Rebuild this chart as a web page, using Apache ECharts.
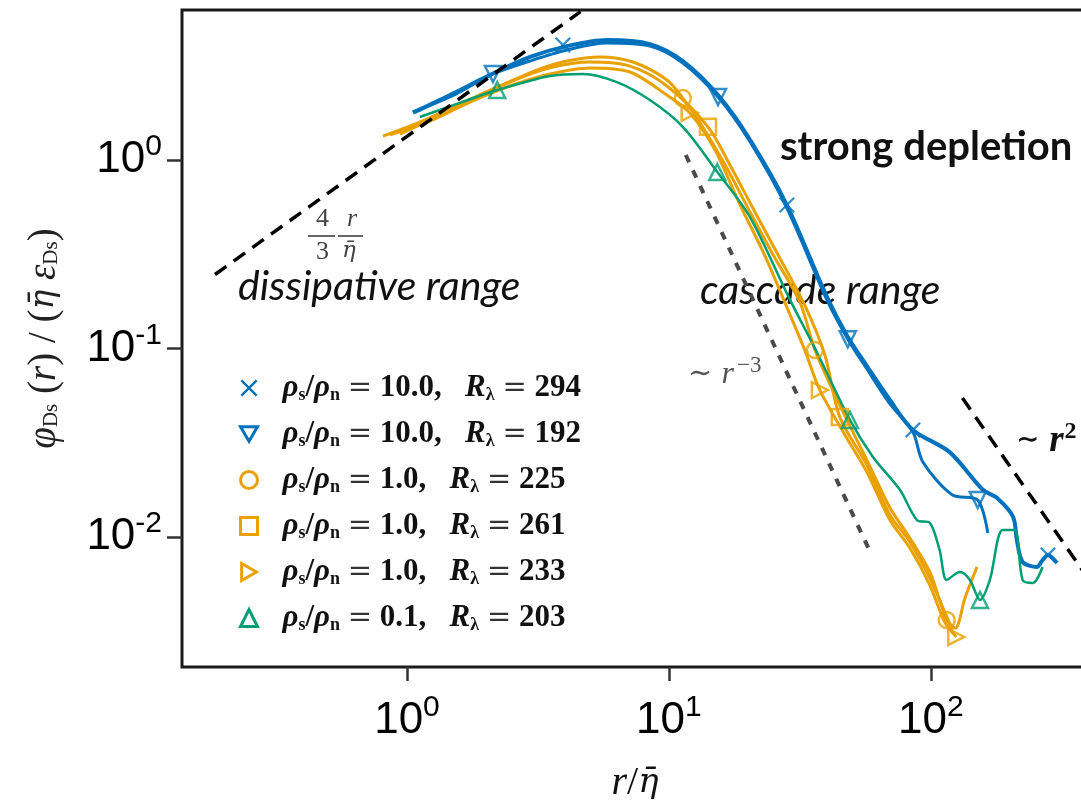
<!DOCTYPE html>
<html><head><meta charset="utf-8">
<script src="https://cdn.jsdelivr.net/npm/echarts@6/dist/echarts.min.js"></script>
<style>html,body{margin:0;padding:0;background:#fff}#c{width:1081px;height:810px}</style>
</head><body><div id="c"></div>
<script>
// ---- tick values ----
const xTicks = [1, 10, 100];
const yTicks = [0.01, 0.1, 1];
const xTickExp = ['0', '1', '2'];
const yTickExp = ['-2', '-1', '0'];

// ---- legend parameters ----
const seriesNames = ['294', '192', '225', '261', '233', '203'];
const ratioLabels = ['10.0', '10.0', '1.0', '1.0', '1.0', '0.1'];
const reLabels = ['294', '192', '225', '261', '233', '203'];

// ---- curves (r/eta, value) ----
const blue294X = [1.054, 1.46, 2.07, 2.95, 4.08, 5.80, 8.46, 11.3, 15.4, 20.4, 28.2, 40.1, 48.2, 57.0, 69.8, 85.4, 118, 158, 179, 206, 213, 224, 254, 267, 280, 303];
const blue294Y = [1.78, 2.21, 2.82, 3.52, 4.02, 4.33, 4.12, 3.35, 2.21, 1.28, 0.577, 0.188, 0.115, 0.0807, 0.0533, 0.0370, 0.0282, 0.0178, 0.0161, 0.0128, 0.00964, 0.00737, 0.00693, 0.00755, 0.00803, 0.00728];
const blue192X = [1.054, 1.46, 2.13, 2.95, 4.08, 5.80, 8.46, 11.3, 15.4, 20.4, 28.2, 40.1, 48.2, 57.0, 69.8, 85.4, 93.2, 121, 151, 165];
const blue192Y = [1.80, 2.16, 2.86, 3.35, 3.83, 4.17, 4.02, 3.27, 2.16, 1.25, 0.556, 0.181, 0.112, 0.0778, 0.0508, 0.0361, 0.0250, 0.0167, 0.0157, 0.0105];
const orange225X = [0.81, 1.12, 1.59, 2.26, 3.22, 4.08, 5.45, 7.29, 9.83, 11.3, 13.1, 16.4, 20.4, 25.4, 31.6, 36.1, 44.9, 57.0, 69.8, 83.2, 99.1, 108, 115, 124, 135, 150];
const orange225Y = [1.34, 1.59, 1.98, 2.47, 3.04, 3.35, 3.52, 3.31, 2.66, 2.13, 1.59, 0.941, 0.530, 0.302, 0.177, 0.0982, 0.0501, 0.0256, 0.0143, 0.00988, 0.00652, 0.00463, 0.00363, 0.00329, 0.00475, 0.00693];
const orange261X = [0.94, 1.224, 1.74, 2.47, 3.51, 4.99, 7.10, 9.83, 14.1, 17.1, 21.3, 26.5, 33.0, 39.4, 44.9, 57.0, 69.8, 83.2, 99.1, 113, 121];
const orange261Y = [1.37, 1.63, 2.08, 2.59, 3.08, 3.31, 3.15, 2.47, 1.50, 0.941, 0.530, 0.302, 0.170, 0.0924, 0.0433, 0.0241, 0.0131, 0.00940, 0.00606, 0.00400, 0.00321];
const orange233X = [0.861, 1.224, 1.74, 2.47, 3.51, 4.99, 7.10, 9.83, 12.0, 15.0, 18.7, 23.2, 29.0, 33.0, 37.7, 47.0, 57.0, 69.8, 83.2, 99.1, 113, 125];
const orange233Y = [1.36, 1.61, 2.03, 2.47, 2.86, 3.08, 2.93, 2.21, 1.78, 1.13, 0.577, 0.313, 0.151, 0.0982, 0.0602, 0.0348, 0.0221, 0.0123, 0.00874, 0.00556, 0.00354, 0.00295];
const green203X = [1.12, 1.59, 2.21, 3.51, 4.70, 6.33, 8.46, 11.3, 15.3, 20.4, 29.0, 36.7, 49.1, 60.1, 76.2, 88.5, 99.1, 108, 115, 129, 141, 154, 168, 188, 209, 224, 245, 267];
const green203Y = [1.69, 2.01, 2.35, 2.79, 2.86, 2.59, 2.08, 1.50, 0.864, 0.498, 0.181, 0.0958, 0.0418, 0.0266, 0.0178, 0.0123, 0.0119, 0.00853, 0.00592, 0.00652, 0.00592, 0.00463, 0.00592, 0.0109, 0.0109, 0.00592, 0.00570, 0.00693];

// ---- marker positions ----
const blue294MarkX = [3.94, 28.2, 85.4, 280];
const blue294MarkY = [4.07, 0.577, 0.0370, 0.00803];
const blue192MarkX = [2.13, 15.4, 48.2, 151];
const blue192MarkY = [2.86, 2.16, 0.112, 0.0157];
const orange225MarkX = [11.3, 36.1, 115];
const orange225MarkY = [2.13, 0.0982, 0.00363];
const orange261MarkX = [14.1, 44.9];
const orange261MarkY = [1.50, 0.0433];
const orange233MarkX = [12.0, 37.7, 125];
const orange233MarkY = [1.78, 0.0602, 0.00295];
const green203MarkX = [2.21, 15.3, 49.1, 154];
const green203MarkY = [2.35, 0.864, 0.0418, 0.00463];

// ---- reference power laws ----
const dissLineX = [0.185, 4.6];
const dissLineY = [0.247, 6.13];
const cascLineX = [11.6, 58.5];
const cascLineY = [1.063, 0.0084];
const tailLineX = [132, 404];
const tailLineY = [0.0546, 0.00587];

const BLUE = '#0072BD', ORANGE = '#E9A100', GREEN = '#009E73';
const crossPath = 'path://M2,0 L10,8 L18,0 L20,2 L12,10 L20,18 L18,20 L10,12 L2,20 L0,18 L8,10 L0,2 Z';
const triDown = 'path://M0,0 L20,0 L10,17.3 Z';
const triRight = 'path://M0,0 L17.3,10 L0,20 Z';

const zip = (xs, ys) => xs.map((x, i) => [x, ys[i]]);

const curves = [
  {name: seriesNames[0], color: BLUE, x: blue294X, y: blue294Y, mx: blue294MarkX, my: blue294MarkY, symbol: crossPath, hollow: false, width: 4},
  {name: seriesNames[1], color: BLUE, x: blue192X, y: blue192Y, mx: blue192MarkX, my: blue192MarkY, symbol: triDown, hollow: true, width: 3},
  {name: seriesNames[2], color: ORANGE, x: orange225X, y: orange225Y, mx: orange225MarkX, my: orange225MarkY, symbol: 'circle', hollow: true, width: 3},
  {name: seriesNames[3], color: ORANGE, x: orange261X, y: orange261Y, mx: orange261MarkX, my: orange261MarkY, symbol: 'rect', hollow: true, width: 3},
  {name: seriesNames[4], color: ORANGE, x: orange233X, y: orange233Y, mx: orange233MarkX, my: orange233MarkY, symbol: triRight, hollow: true, width: 3},
  {name: seriesNames[5], color: GREEN, x: green203X, y: green203Y, mx: green203MarkX, my: green203MarkY, symbol: 'triangle', hollow: true, width: 2.5}
];

const series = [];
curves.forEach(c => {
  series.push({
    name: c.name, type: 'line', data: zip(c.x, c.y), showSymbol: false, smooth: 0.3,
    lineStyle: {color: c.color, width: c.width}, itemStyle: {color: c.color}, z: 3
  });
});
curves.forEach(c => {
  series.push({
    name: c.name, type: 'scatter', data: zip(c.mx, c.my), symbol: c.symbol, symbolSize: 16,
    itemStyle: c.hollow ? {color: 'rgba(255,255,255,0)', borderColor: c.color, borderWidth: 2.5} : {color: c.color},
    z: 4
  });
});
series.push({type: 'line', data: zip(dissLineX, dissLineY), showSymbol: false, clip: false,
  lineStyle: {color: '#000', width: 3.5, type: [14, 9]}, z: 5, silent: true});
series.push({type: 'line', data: zip(cascLineX, cascLineY), showSymbol: false,
  lineStyle: {color: '#4a4a4a', width: 4, type: [8, 9]}, z: 2, silent: true});
series.push({type: 'line', data: zip(tailLineX, tailLineY), showSymbol: false,
  lineStyle: {color: '#000', width: 3.5, type: [14, 9]}, z: 5, silent: true});

const tickRich = {
  b: {fontFamily: 'Liberation Sans', fontSize: 44, color: '#000'},
  s: {fontFamily: 'Liberation Sans', fontSize: 30, color: '#000', padding: [0, 0, 26, 0]}
};
const math = 'Liberation Serif';
const etaFont = 'DejaVu Serif';
const legendRich = {
  i: {fontFamily: math, fontStyle: 'italic', fontWeight: 'bold', fontSize: 31, color: '#111'},
  t: {fontFamily: math, fontWeight: 'bold', fontSize: 31, color: '#111'},
  q: {fontFamily: 'DejaVu Serif', fontSize: 29, color: '#333'},
  sb: {fontFamily: math, fontWeight: 'bold', fontSize: 18, color: '#111', padding: [14, 0, 0, 0]},
  g: {width: 20}
};

const option = {
  animation: false,
  backgroundColor: '#fff',
  grid: {left: 182, top: 10, right: -7, bottom: 143, show: true, borderColor: '#1a1a1a', borderWidth: 3, containLabel: false, outerBoundsMode: 'none'},
  xAxis: {
    type: 'log', logBase: 10, min: 0.1384, max: 398.1,
    axisLine: {show: false},
    splitLine: {show: false}, minorTick: {show: false},
    axisTick: {show: true, inside: false, length: 14, lineStyle: {color: '#333', width: 2.5}, customValues: xTicks},
    axisLabel: {margin: 26, customValues: xTicks, formatter: v => '{b|10}{s|' + xTickExp[xTicks.findIndex(t => Math.abs(t - v) / t < 1e-6)] + '}', rich: tickRich},
    name: '{i|r}{n|/}{e|η̄}', nameLocation: 'middle', nameGap: 96,
    nameTextStyle: {rich: {
      i: {fontFamily: math, fontStyle: 'italic', fontSize: 40, color: '#111'},
      n: {fontFamily: math, fontSize: 40, color: '#111'},
      e: {fontFamily: etaFont, fontStyle: 'italic', fontSize: 34, color: '#111'}
    }}
  },
  yAxis: {
    type: 'log', logBase: 10, min: 0.002043, max: 6.249,
    axisLine: {show: false},
    splitLine: {show: false}, minorTick: {show: false},
    axisTick: {show: true, inside: false, length: 15, lineStyle: {color: '#333', width: 2.5}, customValues: yTicks},
    axisLabel: {margin: 20, customValues: yTicks, formatter: v => '{b|10}{s|' + yTickExp[yTicks.findIndex(t => Math.abs(t - v) / t < 1e-6)] + '}', rich: tickRich},
    name: '{i|φ}{sb|Ds}{n| (}{i|r}{n|) / (}{e|η̄}{i| ε}{sb|Ds}{n|)}', nameLocation: 'middle', nameGap: 118, nameRotate: 90,
    nameTextStyle: {rich: {
      i: {fontFamily: math, fontStyle: 'italic', fontSize: 39, color: '#222'},
      n: {fontFamily: math, fontSize: 39, color: '#222'},
      e: {fontFamily: etaFont, fontStyle: 'italic', fontSize: 33, color: '#222'},
      sb: {fontFamily: math, fontSize: 21, color: '#222', padding: [14, 0, 0, 0]}
    }}
  },
  legend: {
    left: 234, top: 366, orient: 'vertical', itemWidth: 17, itemHeight: 17, itemGap: 12,
    selectedMode: false,
    data: curves.map(c => ({
      name: c.name, icon: c.symbol,
      itemStyle: c.hollow ? {color: '#fff', borderColor: c.color, borderWidth: 3} : {color: c.color, borderWidth: 0}
    })),
    formatter: name => {
      const k = seriesNames.indexOf(name);
      return '{g|}{i|ρ}{sb|s}{t|/}{i|ρ}{sb|n}{t| }{q|=}{t| ' + ratioLabels[k] + ',   }{i|R}{sb|λ}{t| }{q|=}{t| ' + reLabels[k] + '}';
    },
    textStyle: {rich: legendRich, lineHeight: 34}
  },
  graphic: [
    {type: 'text', left: 780, top: 127, style: {text: 'strong depletion', font: 'bold 40px Lato', fill: '#111'}},
    {type: 'text', left: 238, top: 266, style: {text: 'dissipative range', font: 'italic 41px Lato', fill: '#111'}},
    {type: 'text', left: 700, top: 270, style: {text: 'cascade range', font: 'italic 41px Lato', fill: '#111'}},
    // 4/3 r/eta fraction
    {type: 'text', left: 316, top: 206, style: {text: '4', font: '26px "Liberation Serif"', fill: '#444'}},
    {type: 'text', left: 347, top: 206, style: {text: 'r', font: 'italic 26px "Liberation Serif"', fill: '#444'}},
    {type: 'line', shape: {x1: 308, y1: 236, x2: 335, y2: 236}, style: {stroke: '#666', lineWidth: 2}},
    {type: 'line', shape: {x1: 338, y1: 236, x2: 363, y2: 236}, style: {stroke: '#666', lineWidth: 2}},
    {type: 'text', left: 316, top: 239, style: {text: '3', font: '26px "Liberation Serif"', fill: '#444'}},
    {type: 'text', left: 342, top: 240, style: {text: 'η̄', font: 'italic 23px "DejaVu Serif"', fill: '#444'}},
    // ~ r^-3
    {type: 'text', left: 688, top: 354, style: {text: '{n|∼ }{i|r}{s|−3}', rich: {
      n: {font: '29px "DejaVu Serif"', fill: '#555'},
      i: {font: 'italic 32px "Liberation Serif"', fill: '#555'},
      s: {font: '23px "Liberation Serif"', fill: '#555', padding: [0, 0, 18, 3]}}}},
    // ~ r^2
    {type: 'text', left: 1016, top: 420, style: {text: '{n|∼ }{i|r}{s|2}', rich: {
      n: {font: 'bold 28px "DejaVu Serif"', fill: '#111'},
      i: {font: 'bold italic 37px "Liberation Serif"', fill: '#111'},
      s: {font: 'bold 24px "Liberation Serif"', fill: '#111', padding: [0, 0, 18, 1]}}}}
  ],
  series: series
};
const chart = echarts.init(document.getElementById('c'));
chart.setOption(option);
</script>
</body></html>
